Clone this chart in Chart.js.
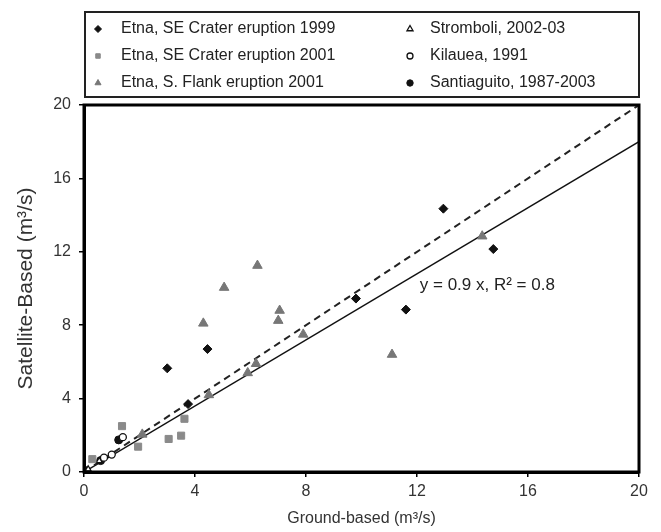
<!DOCTYPE html>
<html>
<head>
<meta charset="utf-8">
<script src="https://cdn.jsdelivr.net/npm/chart.js@4/dist/chart.umd.min.js"></script>
<style>
  body { margin: 0; background: #fff; }
  #wrap { width: 661px; height: 532px; }
</style>
</head>
<body>
<div id="wrap"><canvas id="chart" width="661" height="532"></canvas></div>
<script>
// values (m3/s)
const etna1999_x = [3.0, 4.45, 3.75, 9.8, 11.6, 12.95, 14.75];
const etna1999_y = [5.65, 6.7, 3.7, 9.45, 8.85, 14.35, 12.15];

const etna2001_x = [1.37, 1.95, 0.3, 3.05, 3.5, 3.62];
const etna2001_y = [2.5, 1.38, 0.7, 1.8, 1.98, 2.9];

const flank_x = [4.3, 5.05, 6.25, 7.05, 7.0, 7.9, 6.2, 5.9, 4.5, 11.1, 14.35, 2.1];
const flank_y = [8.1, 10.05, 11.25, 8.8, 8.25, 7.5, 5.9, 5.4, 4.2, 6.4, 12.85, 2.05];

const stromboli_x = [0.55, 0.15];
const stromboli_y = [0.6, 0.15];

const kilauea_x = [1.4, 1.0, 0.72];
const kilauea_y = [1.9, 0.95, 0.78];

const santiaguito_x = [1.25, 0.6, 0.05];
const santiaguito_y = [1.75, 0.62, 0.08];

const fit_x = [0, 20];
const fit_y = [0, 18];
const one_x = [0, 20];
const one_y = [0, 20];

const axis_ticks = [0, 4, 8, 12, 16, 20];
const fit_label = "y = 0.9 x, R\u00B2 = 0.8";

const pts = (xs, ys) => xs.map((x, i) => ({ x, y: ys[i] }));

const series = [
  { label: "Etna, SE Crater eruption 1999", data: pts(etna1999_x, etna1999_y), pointStyle: "rectRot", backgroundColor: "#111", borderColor: "#111", pointRadius: 4.5, legendRadius: 3.5 },
  { label: "Etna, SE Crater eruption 2001", data: pts(etna2001_x, etna2001_y), pointStyle: "rect", backgroundColor: "#8a8a8a", borderColor: "#8a8a8a", pointRadius: 5, legendRadius: 3.2 },
  { label: "Etna, S. Flank eruption 2001", data: pts(flank_x, flank_y), pointStyle: "triangle", backgroundColor: "#777", borderColor: "#777", pointRadius: 5.5, legendRadius: 3.5 },
  { label: "Stromboli, 2002-03", data: pts(stromboli_x, stromboli_y), pointStyle: "triangle", backgroundColor: "#fff", borderColor: "#111", pointRadius: 3.5, legendRadius: 3.5, borderWidth: 1.3 },
  { label: "Kilauea, 1991", data: pts(kilauea_x, kilauea_y), pointStyle: "circle", backgroundColor: "#fff", borderColor: "#111", pointRadius: 3.5, legendRadius: 3, borderWidth: 1.3 },
  { label: "Santiaguito, 1987-2003", data: pts(santiaguito_x, santiaguito_y), pointStyle: "circle", backgroundColor: "#111", borderColor: "#111", pointRadius: 4, legendRadius: 3.2 }
];

const datasets = series.map((s) => ({
  type: "scatter",
  label: s.label,
  data: s.data,
  pointStyle: s.pointStyle,
  pointRadius: s.pointRadius,
  pointBackgroundColor: s.backgroundColor,
  pointBorderColor: s.borderColor,
  pointBorderWidth: s.borderWidth || 1,
  showLine: false,
  order: 1
}));

datasets.push({
  type: "line", label: "1:1", data: pts(one_x, one_y),
  borderColor: "#222", borderWidth: 2, borderDash: [7, 5],
  pointRadius: 0, fill: false, order: 2
});
datasets.push({
  type: "line", label: "fit", data: pts(fit_x, fit_y),
  borderColor: "#111", borderWidth: 1.5,
  pointRadius: 0, fill: false, order: 2
});

const FONT = "'Liberation Sans', Arial, sans-serif";

// frame, legend box and regression text
const extras = {
  id: "extras",
  afterDraw(chart) {
    const ctx = chart.ctx;
    const a = chart.chartArea;
    const xs = chart.scales.x, ys = chart.scales.y;
    ctx.save();
    ctx.strokeStyle = "#000";
    ctx.lineWidth = 3;
    ctx.strokeRect(a.left, a.top, a.right - a.left, a.bottom - a.top);

    // regression label
    ctx.fillStyle = "#222";
    ctx.font = "17px " + FONT;
    ctx.textBaseline = "middle";
    ctx.textAlign = "left";
    ctx.fillText(fit_label, xs.getPixelForValue(12.1), ys.getPixelForValue(10.2));

    // legend
    ctx.lineWidth = 2;
    ctx.strokeStyle = "#222";
    ctx.strokeRect(85, 12, 554, 85);
    ctx.font = "16px " + FONT;
    series.forEach((s, i) => {
      const col = Math.floor(i / 3), row = i % 3;
      const mx = col === 0 ? 98 : 410;
      const tx = col === 0 ? 121 : 430;
      const y = 29 + row * 27;
      ctx.fillStyle = s.backgroundColor;
      ctx.strokeStyle = s.borderColor;
      ctx.lineWidth = s.borderWidth || 1;
      Chart.helpers.drawPoint(ctx, { pointStyle: s.pointStyle, radius: s.legendRadius, borderWidth: s.borderWidth || 1 }, mx, y);
      ctx.fillStyle = "#222";
      ctx.fillText(s.label, tx, y);
    });
    ctx.restore();
  }
};

const tickFont = { family: FONT, size: 16 };

new Chart(document.getElementById("chart"), {
  data: { datasets },
  options: {
    responsive: false,
    animation: false,
    layout: { padding: { top: 105, right: 22, left: 0, bottom: 0 } },
    plugins: { legend: { display: false }, tooltip: { enabled: false } },
    scales: {
      x: {
        type: "linear", min: 0, max: 20,
        afterBuildTicks: (sc) => { sc.ticks = axis_ticks.map((v) => ({ value: v })); },
        afterFit: (sc) => { sc.height = 60; },
        grid: { display: true, drawOnChartArea: false, drawTicks: true, tickLength: 5, color: "#000", lineWidth: 1.5 },
        border: { display: true, color: "#000", width: 3 },
        ticks: { color: "#333", font: tickFont, padding: 5, maxRotation: 0 },
        title: { display: true, text: "Ground-based (m\u00B3/s)", color: "#333", font: { family: FONT, size: 16 }, padding: { top: 0 } }
      },
      y: {
        type: "linear", min: 0, max: 20,
        afterBuildTicks: (sc) => { sc.ticks = axis_ticks.map((v) => ({ value: v })); },
        afterFit: (sc) => { sc.width = 84; },
        grid: { display: true, drawOnChartArea: false, drawTicks: true, tickLength: 5, color: "#000", lineWidth: 1.5 },
        border: { display: true, color: "#000", width: 3 },
        ticks: { color: "#333", font: tickFont, padding: 8 },
        title: { display: true, text: "Satellite-Based (m\u00B3/s)", color: "#333", font: { family: FONT, size: 21 }, padding: { top: 14, bottom: 0 } }
      }
    }
  },
  plugins: [extras]
});
</script>
</body>
</html>
